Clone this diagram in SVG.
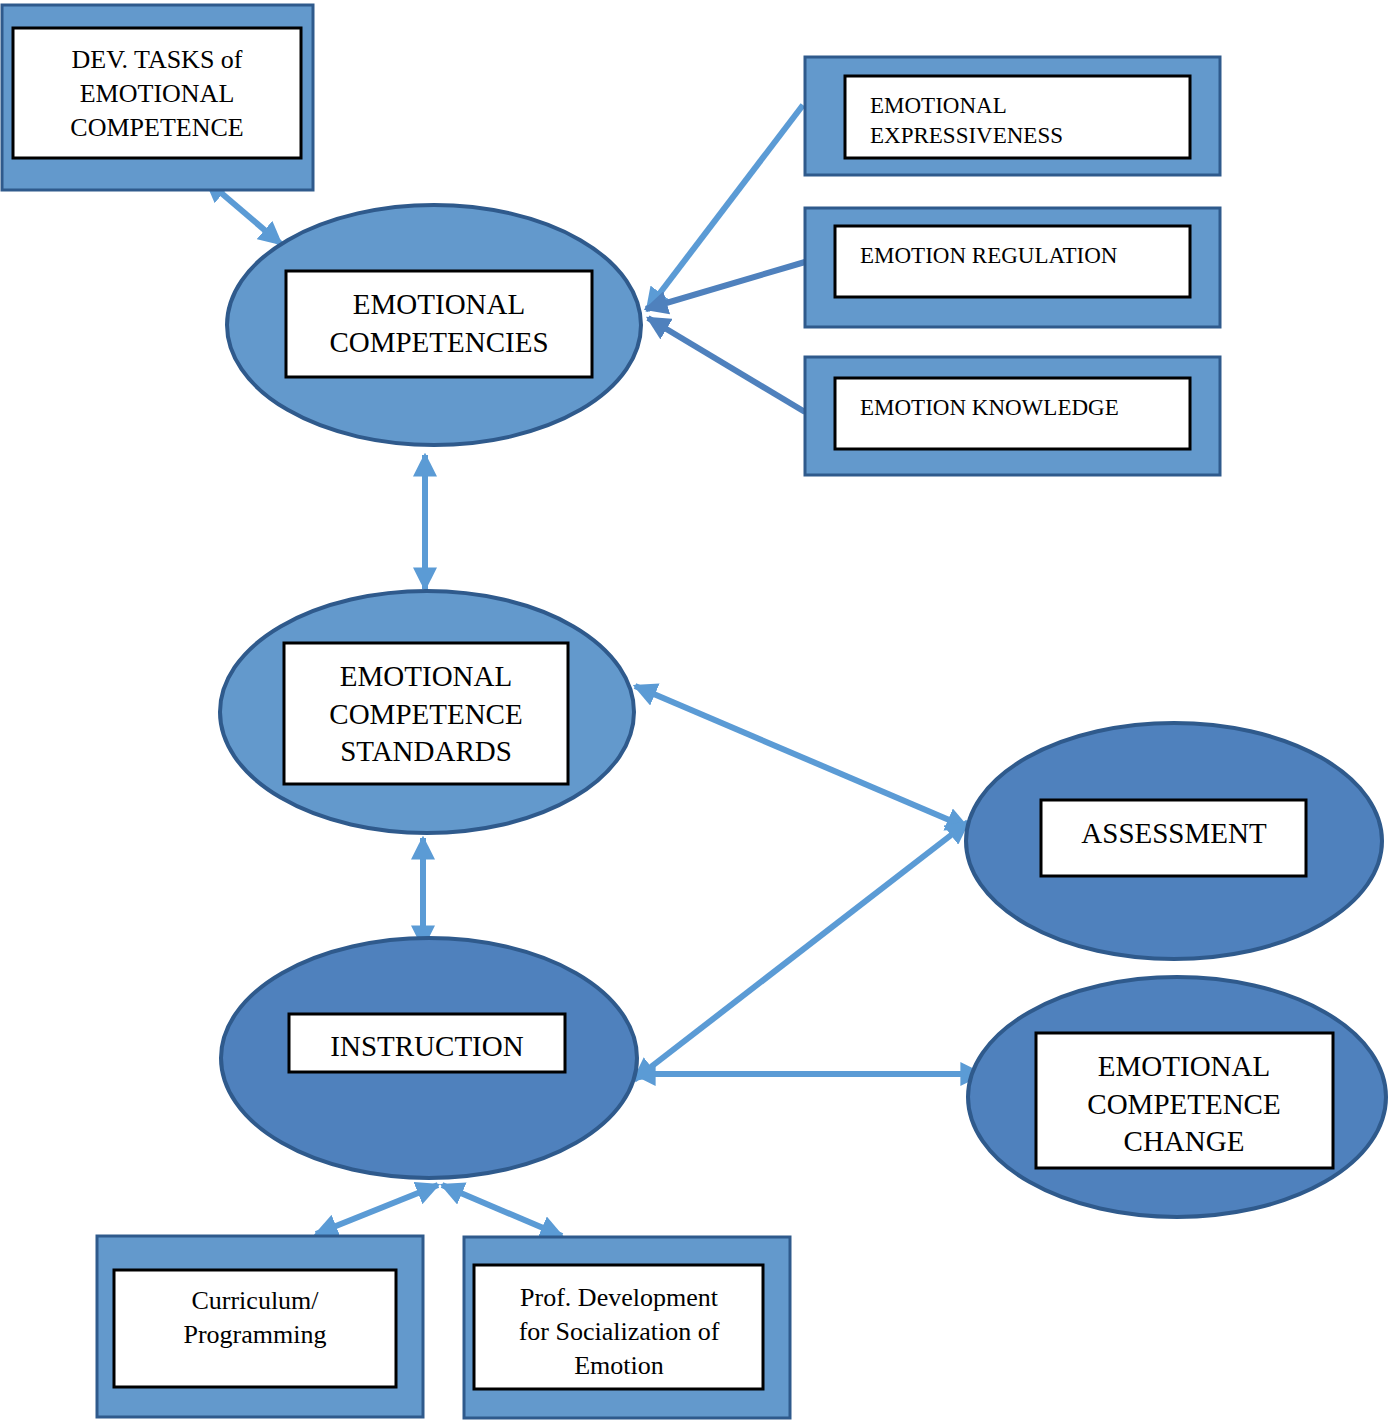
<svg xmlns="http://www.w3.org/2000/svg" width="1388" height="1421" viewBox="0 0 1388 1421">
<style>
.ob{fill:#6399CC;stroke:#2F5A8C;stroke-width:3}
.el{fill:#6399CC;stroke:#2F5A8C;stroke-width:4}
.dk{fill:#4F81BD;stroke:#2F5A8C;stroke-width:4}
.in{fill:#fff;stroke:#000;stroke-width:3}
text{font-family:"Liberation Serif",serif;fill:#000}
.c{text-anchor:middle}
.cn line{stroke:#5B9BD5;stroke-width:6}
.cn line.d{stroke:#4F81BD}
</style>
<defs>
<marker id="a" viewBox="0 0 10 10" refX="9" refY="5" markerWidth="4" markerHeight="4" orient="auto-start-reverse" markerUnits="strokeWidth"><path d="M0,0L10,5L0,10z" fill="#5B9BD5"/></marker>
<marker id="b" viewBox="0 0 10 10" refX="9" refY="5" markerWidth="4" markerHeight="4" orient="auto-start-reverse" markerUnits="strokeWidth"><path d="M0,0L10,5L0,10z" fill="#4F81BD"/></marker>
</defs>
<g class="cn">
<line x1="206" y1="180" x2="281" y2="244" marker-start="url(#a)" marker-end="url(#a)"/>
<line x1="803" y1="105" x2="647" y2="310" marker-end="url(#a)"/>
<line class="d" x1="805" y1="262" x2="646" y2="309" marker-end="url(#b)"/>
<line class="d" x1="805" y1="412" x2="648" y2="318" marker-end="url(#b)"/>
<line x1="425" y1="455" x2="425" y2="589" marker-start="url(#a)" marker-end="url(#a)"/>
<line x1="635" y1="686" x2="968" y2="828" marker-start="url(#a)" marker-end="url(#a)"/>
<line x1="423" y1="838" x2="423" y2="947" marker-start="url(#a)" marker-end="url(#a)"/>
<line x1="634" y1="1080" x2="968" y2="822" marker-start="url(#a)" marker-end="url(#a)"/>
<line x1="634" y1="1074" x2="982" y2="1074" marker-start="url(#a)" marker-end="url(#a)"/>
<line x1="438" y1="1185" x2="316" y2="1234" marker-start="url(#a)" marker-end="url(#a)"/>
<line x1="442" y1="1185" x2="562" y2="1236" marker-start="url(#a)" marker-end="url(#a)"/>
</g>
<g id="dev"><rect class="ob" x="2" y="5" width="311" height="185"/><rect class="in" x="13" y="28" width="288" height="130"/>
<text class="c" font-size="26" x="157" y="68">DEV. TASKS of</text><text class="c" font-size="26" x="157" y="102">EMOTIONAL</text><text class="c" font-size="26" x="157" y="136">COMPETENCE</text></g>
<g id="ec"><ellipse class="el" cx="434" cy="325" rx="207" ry="120"/><rect class="in" x="286" y="271" width="306" height="106"/>
<text class="c" font-size="29" x="439" y="314">EMOTIONAL</text><text class="c" font-size="29" x="439" y="352">COMPETENCIES</text></g>
<g id="expr"><rect class="ob" x="805" y="57" width="415" height="118"/><rect class="in" x="845" y="76" width="345" height="82"/>
<text font-size="23" x="870" y="113">EMOTIONAL</text><text font-size="23" x="870" y="143">EXPRESSIVENESS</text></g>
<g id="reg"><rect class="ob" x="805" y="208" width="415" height="119"/><rect class="in" x="835" y="226" width="355" height="71"/>
<text font-size="23" x="860" y="263">EMOTION REGULATION</text></g>
<g id="know"><rect class="ob" x="805" y="357" width="415" height="118"/><rect class="in" x="835" y="378" width="355" height="71"/>
<text font-size="23" x="860" y="415">EMOTION KNOWLEDGE</text></g>
<g id="ecs"><ellipse class="el" cx="427" cy="712" rx="207" ry="121"/><rect class="in" x="284" y="643" width="284" height="141"/>
<text class="c" font-size="29" x="426" y="686">EMOTIONAL</text><text class="c" font-size="29" x="426" y="724">COMPETENCE</text><text class="c" font-size="29" x="426" y="761">STANDARDS</text></g>
<g id="assess"><ellipse class="dk" cx="1174" cy="841" rx="208" ry="118"/><rect class="in" x="1041" y="800" width="265" height="76"/>
<text class="c" font-size="29" x="1174" y="843">ASSESSMENT</text></g>
<g id="instr"><ellipse class="dk" cx="429" cy="1058" rx="208" ry="120"/><rect class="in" x="289" y="1014" width="276" height="58"/>
<text class="c" font-size="29" x="427" y="1056">INSTRUCTION</text></g>
<g id="ecc"><ellipse class="dk" cx="1177" cy="1097" rx="209" ry="120"/><rect class="in" x="1036" y="1033" width="297" height="135"/>
<text class="c" font-size="29" x="1184" y="1076">EMOTIONAL</text><text class="c" font-size="29" x="1184" y="1114">COMPETENCE</text><text class="c" font-size="29" x="1184" y="1151">CHANGE</text></g>
<g id="curr"><rect class="ob" x="97" y="1236" width="326" height="181"/><rect class="in" x="114" y="1270" width="282" height="117"/>
<text class="c" font-size="26" x="255" y="1309">Curriculum/</text><text class="c" font-size="26" x="255" y="1343">Programming</text></g>
<g id="prof"><rect class="ob" x="464" y="1237" width="326" height="181"/><rect class="in" x="474" y="1265" width="289" height="124"/>
<text class="c" font-size="26" x="619" y="1306">Prof. Development</text><text class="c" font-size="26" x="619" y="1340">for Socialization of</text><text class="c" font-size="26" x="619" y="1374">Emotion</text></g>
</svg>
